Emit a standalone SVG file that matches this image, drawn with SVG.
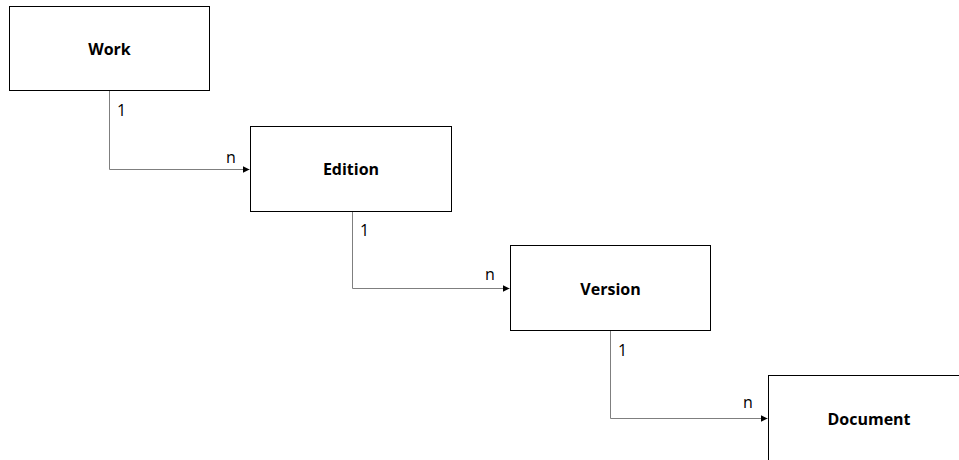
<svg xmlns="http://www.w3.org/2000/svg" width="959" height="460" viewBox="0 0 959 460">
<style>
.box{fill:#fff;stroke:#000;stroke-width:1}
.lbl{font-family:"Open Sans","Liberation Sans",sans-serif;font-weight:bold;font-size:16px;text-anchor:middle;dominant-baseline:central;fill:#000}
.card{font-family:"Open Sans","Liberation Sans",sans-serif;font-size:16px;fill:#000}
.conn{fill:none;stroke:#7f7f7f;stroke-width:1}
</style>
<defs>
<marker id="arr" viewBox="0 0 10 10" refX="10" refY="5" markerWidth="7" markerHeight="7" markerUnits="userSpaceOnUse" orient="auto">
<path d="M0,0 L10,5 L0,10 z" fill="#000"/>
</marker>
</defs>
<rect width="959" height="460" fill="#fff"/>
<g id="connectors">
<path class="conn" d="M109.5,90.5 V169.5 H249.5" marker-end="url(#arr)"/>
<path class="conn" d="M352.5,211.5 V288.5 H509.5" marker-end="url(#arr)"/>
<path class="conn" d="M610.5,330.5 V418.5 H767.5" marker-end="url(#arr)"/>
<text class="card" x="117" y="116">1</text>
<text class="card" x="226" y="163">n</text>
<text class="card" x="360" y="236">1</text>
<text class="card" x="485" y="280">n</text>
<text class="card" x="618" y="356">1</text>
<text class="card" x="743" y="408">n</text>
</g>
<g id="work">
<rect class="box" x="9.5" y="6.5" width="200" height="84"/>
<text class="lbl" x="109.5" y="48.5">Work</text>
</g>
<g id="edition">
<rect class="box" x="250.5" y="126.5" width="201" height="85"/>
<text class="lbl" x="351" y="169">Edition</text>
</g>
<g id="version">
<rect class="box" x="510.5" y="245.5" width="200" height="85"/>
<text class="lbl" x="610.5" y="289">Version</text>
</g>
<g id="document">
<rect class="box" x="768.5" y="375.5" width="200" height="90"/>
<text class="lbl" x="869" y="419">Document</text>
</g>
</svg>
